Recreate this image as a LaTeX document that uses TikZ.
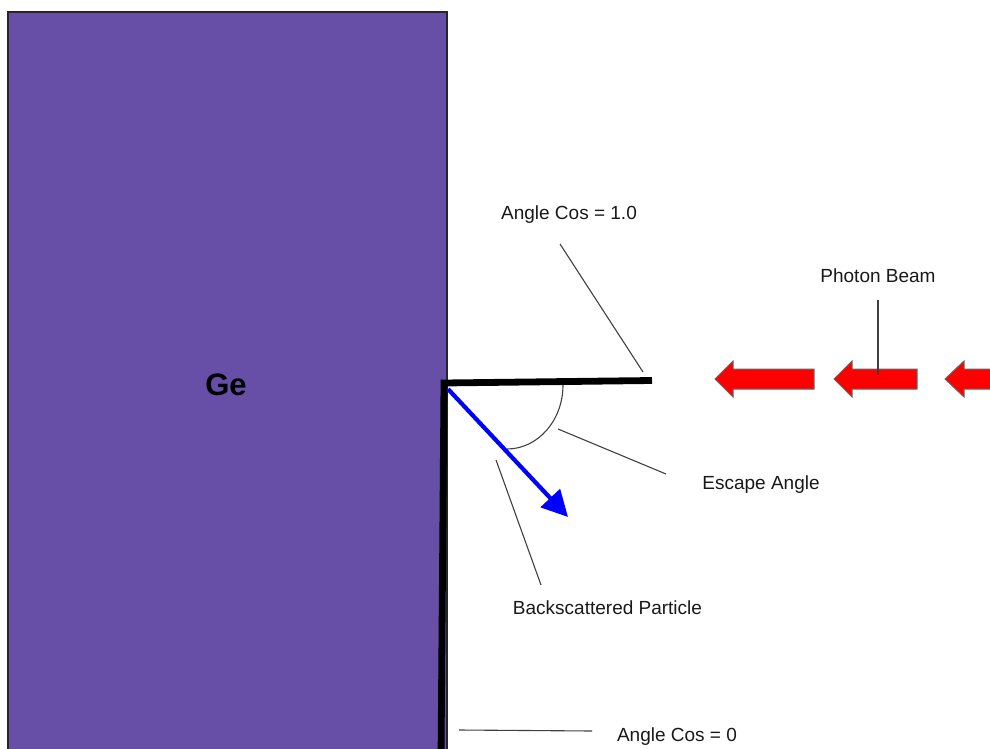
\documentclass[tikz,border=0pt]{standalone}
\usepackage{fontspec}
\setmainfont{Liberation Sans}
\usetikzlibrary{arrows.meta}
\definecolor{gepurple}{HTML}{674EA7}
\definecolor{leader}{HTML}{404040}
\tikzset{
  lbl/.style={font=\fontsize{19}{22}\selectfont, inner sep=0pt, text=black!90},
  leadline/.style={draw=leader, line width=1.1pt},
  redarrow/.style={fill=red, draw=black!60, line width=1pt, line join=miter},
}
\begin{document}
\begin{tikzpicture}[x=1pt,y=-1pt]
\useasboundingbox (0,0) rectangle (990,749);
\begin{scope}
\clip (0,0) rectangle (990,749);
% Ge block
\path[fill=gepurple, draw=black!85, line width=1.2pt] (8,12) rectangle (447,760);
\node[font=\fontsize{31}{36}\selectfont\bfseries, inner sep=0pt] (ge) at (226,385) {Ge};
% Surface lines
\draw[line width=6.8pt, line cap=butt, line join=miter] (652,380.5) -- (444,383) -- (441,760);
% Escape angle arc
\draw[leader, line width=1.1pt] (563,385) arc[start angle=0, end angle=90, x radius=56, y radius=64];
% Blue backscattered arrow
\draw[blue, line width=4.2pt, -{Triangle[length=26pt,width=26pt]}] (448,389) -- (568,517);
% Red photon arrows
\path[redarrow] (715,379) -- (733,361) -- (733,369) -- (814,369) -- (814,389) -- (733,389) -- (733,397) -- cycle;
\path[redarrow] (834,379) -- (852,361) -- (852,369) -- (917,369) -- (917,389) -- (852,389) -- (852,397) -- cycle;
\path[redarrow] (945,379) -- (964,361) -- (964,369) -- (1000,369) -- (1000,389) -- (964,389) -- (964,397) -- cycle;
\end{scope}
% Labels
\node[lbl] (cos1) at (569,215) {Angle Cos = 1.0};
\node[lbl] (beam) at (878,276) {Photon Beam};
\node[lbl] (esc) at (761,485) {Escape Angle};
\node[lbl] (back) at (607.5,608) {Backscattered Particle};
\node[lbl] (cos0) at (677,737) {Angle Cos = 0};
% Leader lines
\coordinate (c1a) at (560,244); \coordinate (c1b) at (643,372);
\coordinate (pba) at (878,300); \coordinate (pbb) at (878,374);
\coordinate (esa) at (666,474); \coordinate (esb) at (558,429);
\coordinate (bka) at (541,585); \coordinate (bkb) at (496,460);
\coordinate (c0a) at (592,731); \coordinate (c0b) at (459,730);
\draw[leadline] (c1a) -- (c1b);
\draw[leadline] (pba) -- (pbb);
\draw[leadline] (esa) -- (esb);
\draw[leadline] (bka) -- (bkb);
\draw[leadline] (c0a) -- (c0b);
\end{tikzpicture}
\end{document}
